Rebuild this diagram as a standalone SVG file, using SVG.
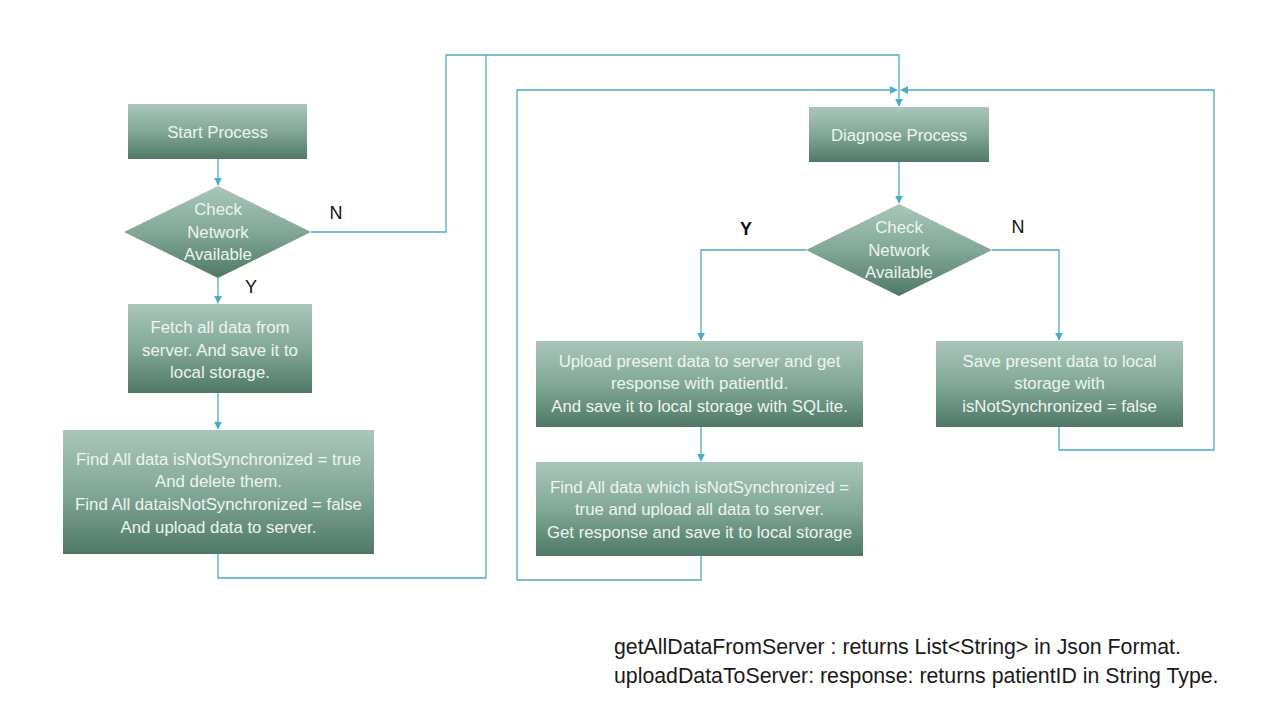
<svg xmlns="http://www.w3.org/2000/svg" width="1280" height="720" viewBox="0 0 1280 720">
<defs>
<linearGradient id="g" x1="0" y1="0" x2="0" y2="1">
<stop offset="0" stop-color="#aac6ba"/>
<stop offset="0.5" stop-color="#82a897"/>
<stop offset="1" stop-color="#4f7866"/>
</linearGradient>
<marker id="ah" viewBox="0 0 10 10" refX="9" refY="5" markerWidth="8" markerHeight="8" markerUnits="userSpaceOnUse" orient="auto">
<path d="M0,0 L10,5 L0,10 z" fill="#4bacc6"/>
</marker>
<style>
.n{fill:url(#g);}
.t{font-family:"Liberation Sans",Arial,sans-serif;font-size:16.8px;fill:#eef4f1;text-anchor:middle;}
.c{fill:none;stroke:#4bacc6;stroke-width:1.3;}
.l{font-family:"Liberation Sans",Arial,sans-serif;font-size:18px;fill:#111;text-anchor:middle;}
.note{font-family:"Liberation Sans",Arial,sans-serif;font-size:21.3px;fill:#1a1a1a;}
</style>
</defs>
<rect width="1280" height="720" fill="#fff"/>
<g id="connectors">
<path class="c" d="M218,159 V185" marker-end="url(#ah)"/>
<path class="c" d="M218,278 V303" marker-end="url(#ah)"/>
<path class="c" d="M218,393 V429" marker-end="url(#ah)"/>
<path class="c" d="M311,232 H446 V55 H899 V106" marker-end="url(#ah)"/>
<path class="c" d="M218,554 V578 H486 V55"/>
<path class="c" d="M701,556 V580 H517 V90 H897" marker-end="url(#ah)"/>
<path class="c" d="M1059,427 V450 H1214 V90 H901" marker-end="url(#ah)"/>
<path class="c" d="M899,162 V203" marker-end="url(#ah)"/>
<path class="c" d="M806,250 H701 V340" marker-end="url(#ah)"/>
<path class="c" d="M992,250 H1059 V340" marker-end="url(#ah)"/>
<path class="c" d="M701,427 V461" marker-end="url(#ah)"/>
</g>
<g id="labels">
<text class="l" x="336" y="219">N</text>
<text class="l" x="251" y="293">Y</text>
<text class="l" x="746" y="235" font-weight="bold">Y</text>
<text class="l" x="1018" y="233">N</text>
</g>
<g id="start">
<rect class="n" x="128" y="104" width="179" height="55"/>
<text class="t" x="217.5" y="138">Start Process</text>
</g>
<g id="check1">
<polygon class="n" points="218,186 311,232 218,278 124,232"/>
<text class="t" x="218" y="215">Check</text>
<text class="t" x="218" y="238">Network</text>
<text class="t" x="218" y="260">Available</text>
</g>
<g id="fetch">
<rect class="n" x="128" y="304" width="184" height="89"/>
<text class="t" x="220" y="333">Fetch all data from</text>
<text class="t" x="220" y="356">server. And save it to</text>
<text class="t" x="220" y="378">local storage.</text>
</g>
<g id="findall1">
<rect class="n" x="63" y="430" width="311" height="124"/>
<text class="t" x="218.5" y="465">Find All data isNotSynchronized = true</text>
<text class="t" x="218.5" y="487">And delete them.</text>
<text class="t" x="218.5" y="510">Find All dataisNotSynchronized = false</text>
<text class="t" x="218.5" y="533">And upload data to server.</text>
</g>
<g id="diagnose">
<rect class="n" x="809" y="107" width="180" height="55"/>
<text class="t" x="899" y="141">Diagnose Process</text>
</g>
<g id="check2">
<polygon class="n" points="899,204 992,250 899,296 806,250"/>
<text class="t" x="899" y="233">Check</text>
<text class="t" x="899" y="256">Network</text>
<text class="t" x="899" y="278">Available</text>
</g>
<g id="upload">
<rect class="n" x="536" y="341" width="327" height="86"/>
<text class="t" x="699.5" y="367">Upload present data to server and get</text>
<text class="t" x="699.5" y="389">response with patientId.</text>
<text class="t" x="699.5" y="412">And save it to local storage with SQLite.</text>
</g>
<g id="save">
<rect class="n" x="936" y="341" width="247" height="86"/>
<text class="t" x="1059.5" y="367">Save present data to local</text>
<text class="t" x="1059.5" y="389">storage with</text>
<text class="t" x="1059.5" y="412">isNotSynchronized = false</text>
</g>
<g id="findall2">
<rect class="n" x="536" y="462" width="327" height="94"/>
<text class="t" x="699.5" y="493">Find All data which isNotSynchronized =</text>
<text class="t" x="699.5" y="515">true and upload all data to server.</text>
<text class="t" x="699.5" y="538">Get response and save it to local storage</text>
</g>
<g id="notes">
<text class="note" x="614" y="654">getAllDataFromServer : returns List&lt;String&gt; in Json Format.</text>
<text class="note" x="614" y="683">uploadDataToServer: response: returns patientID in String Type.</text>
</g>
</svg>
